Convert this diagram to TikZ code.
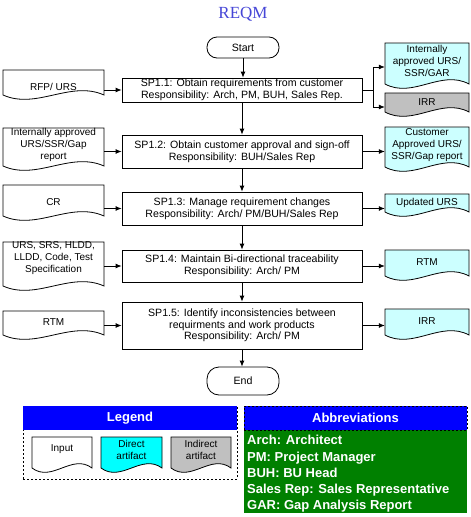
\documentclass[tikz,border=0pt]{standalone}
\usepackage{fontspec}
\setmainfont{Liberation Sans}
\newfontfamily\titlefont{Liberation Serif}
\usetikzlibrary{arrows.meta,calc}
\definecolor{lcyan}{RGB}{204,255,255}
\definecolor{greyf}{RGB}{192,192,192}
\definecolor{cyanf}{RGB}{0,255,255}
\definecolor{hblue}{RGB}{0,0,255}
\definecolor{agreen}{RGB}{0,128,0}
\definecolor{tblue}{RGB}{70,70,215}
\tikzset{
  txt/.style={font=\fontsize{10}{12}\selectfont, align=center, inner sep=0pt},
  proc/.style={txt, font=\fontsize{10.6}{12}\selectfont, draw, fill=white, line width=0.8pt, minimum width=240pt},
  term/.style={txt, font=\fontsize{10.6}{12}\selectfont, draw, fill=white, line width=0.8pt, rounded corners=10pt, minimum width=72pt},
  arr/.style={-{Latex[length=6pt,width=5pt]}, line width=0.8pt},
  docline/.style={draw, line width=0.8pt},
  headbox/.style={fill=hblue, text=white, font=\bfseries\fontsize{13}{15}\selectfont, inner sep=0pt, minimum height=24pt},
}
% name, x1, y1, x2, ymid, fill, text y, text
\newcommand\docnode[8]{%
  \pgfmathsetmacro\dw{#4-#2}%
  \pgfmathsetmacro\dcx{(#2+#4)/2}%
  \draw[docline, fill=#6] (#2,#3) -- (#4,#3) -- (#4,#5)
     .. controls ({#2+2*\dw/3},{#5-15}) and ({#2+\dw/3},{#5+15}) .. (#2,#5) -- cycle;
  \node[txt, minimum width=\dw pt] (#1) at (\dcx,#7) {#8};%
}
\begin{document}
\begin{tikzpicture}[x=1pt,y=-1pt]
\useasboundingbox (0,0) rectangle (471,517);
\fill[white] (0,0) rectangle (471,517);

\node[text=tblue, font=\titlefont\fontsize{17}{19}\selectfont] (title) at (243,14) {REQM};

\node[term, minimum height=21pt] (start) at (243,47.5) {Start};
\node[proc, minimum height=24pt] (sp1) at (242,90) {SP1.1: Obtain requirements from customer\\Responsibility: Arch, PM, BUH, Sales Rep.};
\node[proc, minimum height=33pt] (sp2) at (242,151.5) {SP1.2: Obtain customer approval and sign-off\\Responsibility: BUH/Sales Rep};
\node[proc, minimum height=33pt] (sp3) at (242,208.5) {SP1.3: Manage requirement changes\\Responsibility: Arch/ PM/BUH/Sales Rep};
\node[proc, minimum height=32pt] (sp4) at (242,266) {SP1.4: Maintain Bi-directional traceability\\Responsibility: Arch/ PM};
\node[proc, minimum height=47pt, font=\fontsize{10.6}{11.5}\selectfont] (sp5) at (242,325.5) {SP1.5: Identify inconsistencies between\\requirments and work products\\Responsibility: Arch/ PM};
\node[term, minimum height=28pt, rounded corners=12pt] (end) at (243,381) {End};

% inputs
\docnode{in1}{3}{70}{104}{95}{white}{87}{RFP/ URS}
\docnode{in2}{3}{128}{104}{166}{white}{145}{Internally approved\\URS/SSR/Gap\\report}
\docnode{in3}{3}{185}{104}{216}{white}{202}{CR}
\docnode{in4}{3}{242}{104}{286}{white}{258}{URS, SRS, HLDD,\\LLDD, Code, Test\\Specification}
\docnode{in5}{3}{311}{104}{335}{white}{322}{RTM}

% outputs
\docnode{out1}{385}{43}{469}{84}{lcyan}{61}{Internally\\approved URS/\\SSR/GAR}
\docnode{irr1}{385}{93}{469}{112}{greyf}{102}{IRR}
\docnode{out2}{385}{127}{469}{167}{lcyan}{145}{Customer\\Approved URS/\\SSR/Gap report}
\docnode{out3}{385}{194}{469}{212}{lcyan}{203}{Updated URS}
\docnode{out4}{385}{250}{469}{276}{lcyan}{262}{RTM}
\docnode{out5}{385}{309}{469}{335}{lcyan}{321}{IRR}

% vertical flow
\draw[arr] (start.south) -- (start.south |- sp1.north);
\draw[arr] (sp1.south) -- (sp2.north);
\draw[arr] (sp2.south) -- (sp3.north);
\draw[arr] (sp3.south) -- (sp4.north);
\draw[arr] (sp4.south) -- (sp5.north);
\draw[arr] (sp5.south) -- (sp5.south |- end.north);

% inputs to processes
\draw[arr] (in1.east |- sp1.west) -- (sp1.west);
\draw[arr] (in2.east |- sp2.west) -- (sp2.west);
\draw[arr] (in3.east |- sp3.west) -- (sp3.west);
\draw[arr] (in4.east |- sp4.west) -- (sp4.west);
\draw[arr] (in5.east |- sp5.west) -- (sp5.west);

% outputs
\coordinate (split) at ($(sp1.east)+(11,0)$);
\draw[line width=0.8pt] (sp1.east) -- (split);
\draw[arr] (split) |- ([yshift=-6pt]out1.west);
\draw[arr] (split) |- ([yshift=-5pt]irr1.west);
\draw[arr] (sp2.east) -- (sp2.east -| out2.west);
\draw[arr] (sp3.east) -- (sp3.east -| out3.west);
\draw[arr] (sp4.east) -- (sp4.east -| out4.west);
\draw[arr] (sp5.east) -- (sp5.east -| out5.west);

% legend
\node[draw, line width=0.8pt, dash pattern=on 2pt off 2pt, minimum width=214pt, minimum height=73pt, inner sep=0pt] (legframe) at (130,442.5) {};
\node[headbox, minimum width=214pt] (leghead) at (130,418) {Legend};
\docnode{lin}{32}{437}{92}{468}{white}{449}{Input}
\docnode{ldir}{101}{437}{162}{468}{cyanf}{449.5}{Direct\\artifact}
\docnode{lind}{171}{437}{231}{468}{greyf}{449.5}{Indirect\\artifact}

% abbreviations
\node[fill=agreen, minimum width=223pt, minimum height=83pt, inner sep=0pt] (abbody) at (355.5,471.5) {};
\node[headbox, minimum width=223pt, draw=black, line width=0.8pt, dash pattern=on 2pt off 2pt] (abhead) at (355.5,418) {Abbreviations};
\node[anchor=north west, text=white, font=\bfseries\fontsize{13}{16.2}\selectfont, align=left, inner sep=0pt] (abtext) at (247,435.3) {Arch: Architect\\PM: Project Manager\\BUH: BU Head\\Sales Rep: Sales Representative\\GAR: Gap Analysis Report};
\end{tikzpicture}
\end{document}
